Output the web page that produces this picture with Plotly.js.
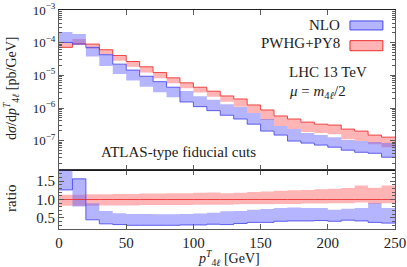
<!DOCTYPE html>
<html><head><meta charset="utf-8">
<script src="https://cdn.plot.ly/plotly-3.0.1.min.js"></script>
<style>html,body{margin:0;padding:0;background:#fff}#chart{width:407px;height:267px}</style>
</head><body><div id="chart"></div>
<script>
// bin edges of p_T^{4l} [GeV]
const binEdges = [0,10,20,30,40,50,60,70,80,90,100,110,120,130,140,150,160,170,180,190,200,210,220,230,240,250];
// main panel: dsigma/dpT [pb/GeV], band edges and central line per bin
const nloLo = [1.02e-4,9.1e-5,3.79e-5,1.92e-5,1.11e-5,6.9e-6,4.5e-6,3.04e-6,2.13e-6,1.53e-6,1.1e-6,8.3e-7,6.0e-7,4.6e-7,3.2e-7,1.96e-7,1.48e-7,9.7e-8,8.4e-8,7.3e-8,6.3e-8,5.1e-8,4.4e-8,4.1e-8,3.1e-8];
const nloHi = [2.13e-4,1.85e-4,7.2e-5,4.28e-5,2.21e-5,1.45e-5,9.4e-6,6.4e-6,4.33e-6,3.34e-6,2.29e-6,1.8e-6,1.3e-6,1.07e-6,7.0e-7,4.6e-7,2.8e-7,2.26e-7,1.7e-7,1.48e-7,1.28e-7,1.04e-7,9.7e-8,9.0e-8,8.4e-8];
const nloCentral = [1.02e-4,9.1e-5,7.2e-5,4.28e-5,2.21e-5,1.45e-5,9.4e-6,6.4e-6,4.33e-6,1.53e-6,1.1e-6,8.3e-7,6.0e-7,4.6e-7,3.2e-7,1.96e-7,1.48e-7,9.7e-8,8.4e-8,7.3e-8,6.3e-8,5.1e-8,4.4e-8,4.1e-8,3.1e-8];
const pwgLo = [7.2e-5,9.1e-5,6.5e-5,4.28e-5,2.8e-5,1.83e-5,1.22e-5,8.2e-6,5.75e-6,4.04e-6,2.96e-6,2.23e-6,1.56e-6,1.1e-6,7.0e-7,4.3e-7,2.8e-7,2.26e-7,1.83e-7,1.7e-7,1.58e-7,1.11e-7,9.7e-8,7.8e-8,6.3e-8];
const pwgHi = [1.05e-4,1.3e-4,9.1e-5,6.1e-5,4.07e-5,2.66e-5,1.83e-5,1.22e-5,8.4e-6,5.9e-6,4.33e-6,3.27e-6,2.34e-6,1.89e-6,1.24e-6,8.7e-7,5.7e-7,4.6e-7,3.7e-7,3.2e-7,3.0e-7,2.26e-7,1.96e-7,1.48e-7,1.28e-7];
const pwgCentral = [7.2e-5,9.1e-5,9.1e-5,6.1e-5,4.07e-5,2.66e-5,1.83e-5,1.22e-5,8.4e-6,5.9e-6,4.33e-6,3.27e-6,2.34e-6,1.89e-6,1.24e-6,8.7e-7,5.7e-7,4.6e-7,3.7e-7,3.2e-7,3.0e-7,2.26e-7,1.96e-7,1.48e-7,1.28e-7];
// ratio panel
const nloRatioLo = [1.26,0.81,0.45,0.34,0.32,0.30,0.30,0.30,0.30,0.31,0.31,0.33,0.32,0.35,0.38,0.38,0.41,0.42,0.42,0.43,0.41,0.44,0.42,0.38,0.36];
const nloRatioHi = [1.85,1.56,0.90,0.69,0.63,0.61,0.61,0.60,0.60,0.61,0.62,0.64,0.68,0.69,0.72,0.74,0.77,0.78,0.77,0.77,0.72,0.75,0.77,0.90,0.77];
const nloRatioCentral = [1.26,1.56,0.45,0.34,0.32,0.30,0.30,0.30,0.30,0.31,0.31,0.33,0.32,0.35,0.38,0.38,0.41,0.42,0.42,0.43,0.41,0.44,0.42,0.38,0.36];
const pwgRatioLo = [0.83,0.83,0.83,0.84,0.84,0.84,0.85,0.85,0.85,0.85,0.86,0.86,0.86,0.87,0.87,0.87,0.88,0.88,0.89,0.89,0.90,0.90,0.92,0.88,0.90];
const pwgRatioHi = [1.13,1.13,1.14,1.14,1.15,1.15,1.16,1.16,1.17,1.17,1.18,1.19,1.17,1.18,1.20,1.22,1.24,1.25,1.26,1.28,1.29,1.31,1.38,1.32,1.38];
const pwgRatioCentral = [1,1,1,1,1,1,1,1,1,1,1,1,1,1,1,1,1,1,1,1,1,1,1,1,1];
const seriesNames = ['NLO','PWHG+PY8'];
const xTickVals = [0,50,100,150,200,250];
const ratioTickVals = [0.5,1.0,1.5];

const blueFill = 'rgba(90,90,255,0.45)', blueLine = 'rgb(70,70,235)';
const redFill = 'rgba(255,90,90,0.45)', redLine = 'rgb(235,45,45)';

function stepY(a){ return a.concat([a[a.length-1]]); }
function band(lo, hi, fill, xa, ya){
  return [
    {x: binEdges, y: stepY(lo), type:'scatter', mode:'lines', line:{shape:'hv', width:0, color:fill}, xaxis:xa, yaxis:ya, showlegend:false, hoverinfo:'skip'},
    {x: binEdges, y: stepY(hi), type:'scatter', mode:'lines', line:{shape:'hv', width:0, color:fill}, fill:'tonexty', fillcolor:fill, xaxis:xa, yaxis:ya, showlegend:false, hoverinfo:'skip'}
  ];
}
function centralLine(c, color, xa, ya){
  return {x: binEdges, y: stepY(c), type:'scatter', mode:'lines', line:{shape:'hv', width:1, color:color}, opacity:0.85, xaxis:xa, yaxis:ya, showlegend:false, hoverinfo:'skip'};
}

const data = [].concat(
  band(pwgLo, pwgHi, redFill, 'x', 'y'),
  band(nloLo, nloHi, blueFill, 'x', 'y'),
  band(pwgRatioLo, pwgRatioHi, redFill, 'x2', 'y2'),
  band(nloRatioLo, nloRatioHi, blueFill, 'x2', 'y2'),
  [centralLine(pwgCentral, redLine, 'x', 'y'),
   centralLine(nloCentral, blueLine, 'x', 'y'),
   centralLine(pwgRatioCentral, redLine, 'x2', 'y2'),
   centralLine(nloRatioCentral, blueLine, 'x2', 'y2')]
);

const F = 'Liberation Serif, Times New Roman, serif';
const axCol = 'rgb(90,90,90)';
const common = {showgrid:false, zeroline:false, showline:true, linecolor:axCol, linewidth:1, mirror:'allticks', ticks:'inside', tickcolor:axCol, ticklen:5};

const layout = {
  width:407, height:267,
  margin:{l:59, r:12, t:10, b:38},
  paper_bgcolor:'#fff', plot_bgcolor:'#fff',
  font:{family:F, size:15, color:'#222'},
  showlegend:false,
  xaxis: Object.assign({}, common, {range:[0,250], anchor:'y', tickvals:xTickVals, showticklabels:false, linecolor:'#222'}),
  yaxis: Object.assign({}, common, {type:'log', range:[-7.9,-2.997], domain:[0.2694,1], tickvals:[1e-7,1e-6,1e-5,1e-4,1e-3], ticktext:['10<sup>−7</sup>','10<sup>−6</sup>','10<sup>−5</sup>','10<sup>−4</sup>','10<sup>−3</sup>'], tickfont:{family:F, size:13},
    minor:{ticks:'inside', ticklen:3, dtick:'D1', tickcolor:axCol, showgrid:false}}),
  xaxis2: Object.assign({}, common, {range:[0,250], anchor:'y2', matches:'x', tickvals:xTickVals, tickfont:{family:F, size:15}}),
  yaxis2: Object.assign({}, common, {range:[0.2,1.8], domain:[0,0.2694], anchor:'x2', tickvals:ratioTickVals, tickformat:'.1f', tickfont:{family:F, size:15},
    minor:{ticks:'inside', ticklen:3, dtick:0.1, tickcolor:axCol, showgrid:false}}),
  annotations:[
    {text:'d<i>σ</i>/d<i>p</i><sup><i>T</i></sup><sub>4<i>ℓ</i></sub> [pb/GeV]', xref:'paper', yref:'paper', x:-0.143, y:0.644, textangle:-90, showarrow:false, xanchor:'center', yanchor:'middle', font:{family:F, size:14}},
    {text:'ratio', xref:'paper', yref:'paper', x:-0.143, y:0.1416, textangle:-90, showarrow:false, xanchor:'center', yanchor:'middle', font:{family:F, size:15}},
    {text:'<i>p</i><sup><i>T</i></sup><sub>4<i>ℓ</i></sub> [GeV]', xref:'paper', yref:'paper', x:0.505, y:-0.134, showarrow:false, xanchor:'center', yanchor:'middle', font:{family:F, size:14}},
    {text:seriesNames[0], xref:'paper', yref:'paper', x:0.842, y:0.9315, showarrow:false, xanchor:'right', yanchor:'middle', font:{family:F, size:15}},
    {text:seriesNames[1], xref:'paper', yref:'paper', x:0.842, y:0.848, showarrow:false, xanchor:'right', yanchor:'middle', font:{family:F, size:15}},
    {text:'LHC 13 TeV', xref:'paper', yref:'paper', x:0.679, y:0.718, showarrow:false, xanchor:'left', yanchor:'middle', font:{family:F, size:15}},
    {text:'<i>μ</i> = <i>m</i><sub>4<i>ℓ</i></sub>/2', xref:'paper', yref:'paper', x:0.679, y:0.626, showarrow:false, xanchor:'left', yanchor:'middle', font:{family:F, size:15}},
    {text:'ATLAS-type fiducial cuts', xref:'paper', yref:'paper', x:0.119, y:0.353, showarrow:false, xanchor:'left', yanchor:'middle', font:{family:F, size:15}}
  ],
  shapes:[
    {type:'rect', xref:'paper', yref:'paper', x0:0.866, x1:0.964, y0:0.909, y1:0.950, fillcolor:blueFill, line:{color:blueLine, width:1}},
    {type:'rect', xref:'paper', yref:'paper', x0:0.866, x1:0.964, y0:0.814, y1:0.860, fillcolor:redFill, line:{color:redLine, width:1}},
    {type:'line', xref:'paper', yref:'paper', x0:0, x1:1, y0:0.2694, y1:0.2694, line:{color:'#111', width:1}}
  ]
};
Plotly.newPlot('chart', data, layout, {displayModeBar:false, staticPlot:true});
</script></body></html>
